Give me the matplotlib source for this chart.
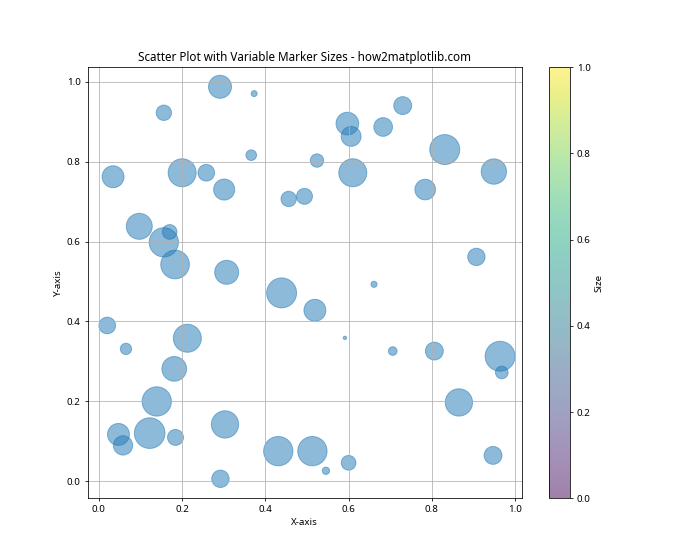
import matplotlib.pyplot as plt

plt.rcParams['font.family'] = ['Noto Sans', 'DejaVu Sans']

# values
x = [0.291, 0.156, 0.034, 0.200, 0.258, 0.301, 0.097, 0.170, 0.156, 0.183, 0.307,
     0.373, 0.597, 0.606, 0.366, 0.524, 0.610, 0.456, 0.494,
     0.730, 0.683, 0.831, 0.949, 0.784, 0.907,
     0.020, 0.065, 0.2125, 0.181, 0.139, 0.047, 0.058, 0.122, 0.184, 0.303, 0.292,
     0.439, 0.519, 0.591, 0.661, 0.431, 0.513, 0.5455, 0.600,
     0.706, 0.806, 0.964, 0.968, 0.865, 0.947]
y = [0.987, 0.922, 0.762, 0.772, 0.772, 0.730, 0.638, 0.624, 0.598, 0.5425, 0.523,
     0.970, 0.895, 0.863, 0.816, 0.8025, 0.772, 0.7065, 0.713,
     0.940, 0.8865, 0.830, 0.775, 0.730, 0.5615,
     0.390, 0.3315, 0.358, 0.2815, 0.200, 0.1175, 0.090, 0.1207, 0.110, 0.1425, 0.0065,
     0.4715, 0.428, 0.359, 0.493, 0.0757, 0.0757, 0.0265, 0.0465,
     0.326, 0.326, 0.313, 0.2725, 0.1975, 0.065]
sizes = [560, 250, 510, 830, 295, 470, 715, 230, 910, 870, 610,
         38, 545, 420, 120, 190, 830, 250, 270,
         340, 370, 950, 680, 450, 320,
         295, 135, 830, 645, 910, 510, 395, 995, 270, 790, 320,
         950, 510, 12, 40, 910, 910, 57, 230,
         80, 340, 950, 170, 790, 340]

plt.figure(figsize=(10, 8), dpi=70)
scatter = plt.scatter(x, y, s=sizes, alpha=0.5)
plt.colorbar(scatter, label='Size')
plt.title('Scatter Plot with Variable Marker Sizes - how2matplotlib.com')
plt.xlabel('X-axis')
plt.ylabel('Y-axis')
plt.grid(True)
plt.savefig('out.png', dpi=70)
